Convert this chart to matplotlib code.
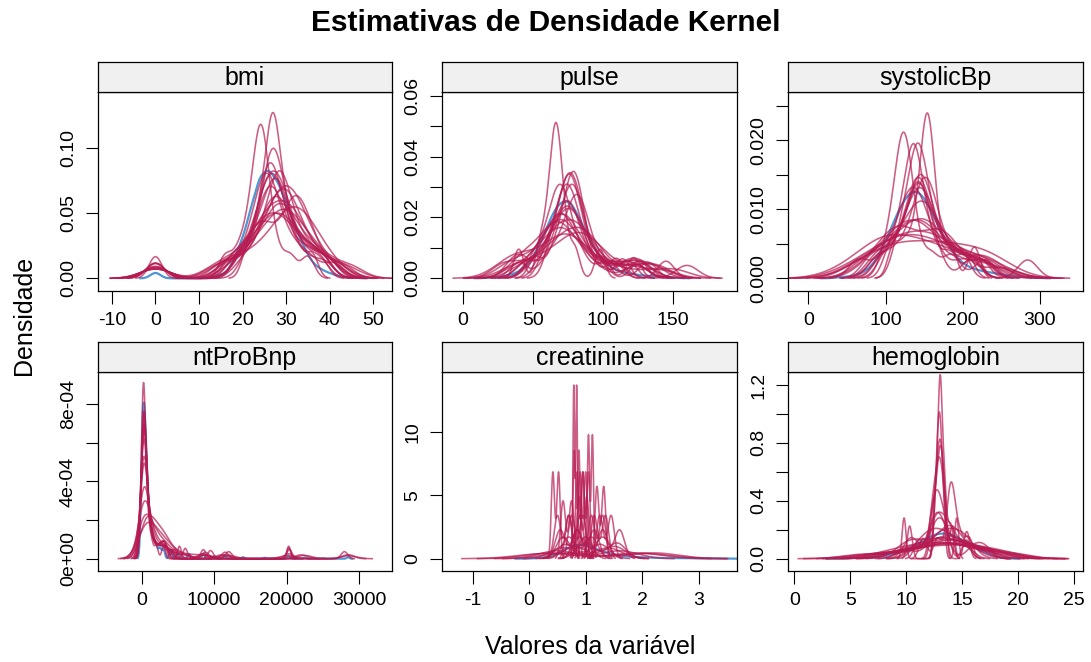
import matplotlib
matplotlib.use('Agg')
import matplotlib.pyplot as plt
import numpy as np

plt.rcParams['font.family'] = ['Liberation Sans', 'DejaVu Sans']

COR_OBS = '#006CC2'
COR_IMP = '#B61A51'

# ---- dados observados (valor, contagem) e conjuntos imputados por variável ----
bmi_obs = [0, 15, 18, 20, 22, 24, 26, 28, 30, 32, 34, 36, 38, 40, 42, 45]
bmi_obs_n = [6, 4, 15, 30, 55, 80, 85, 75, 60, 40, 25, 12, 7, 4, 2, 1]
bmi_imp = [
    [0, 16, 19, 21, 22, 23, 23.5, 24, 24, 24.5, 25, 25.5, 26, 28, 31, 35],
    [0, 14, 18, 21, 23, 25, 26, 27, 28, 29, 30, 31, 33, 35, 38, 42],
    [17, 20, 22, 24, 25, 26, 27, 27, 28, 29, 29, 30, 32, 34, 37, 40],
    [0, 18, 21, 23, 24, 25, 26, 26, 27, 28, 28, 29, 30, 32, 35, 39],
    [15, 19, 22, 24, 25, 26, 26, 27, 27, 28, 29, 31, 33, 36, 38, 43],
    [0, 20, 22, 24, 25, 25, 26, 31, 31, 32, 32, 32, 33, 34, 36, 38],
    [18, 21, 23, 25, 26, 27, 28, 29, 30, 30, 31, 32, 33, 35, 37, 41],
    [0, 17, 20, 22, 24, 25, 26, 27, 28, 29, 30, 32, 34, 36, 39, 44],
    [19, 22, 24, 25, 26, 26, 27, 27, 28, 28, 29, 30, 31, 33, 35, 38],
    [0, 15, 19, 22, 24, 26, 27, 28, 29, 30, 31, 32, 33, 35, 37, 40],
    [16, 20, 23, 25, 26, 27, 28, 28, 29, 29, 30, 31, 32, 34, 36, 39],
    [0, 19, 22, 23, 24, 25, 25, 26, 26, 27, 28, 29, 31, 33, 36, 41],
    [20, 23, 25, 26, 27, 28, 29, 30, 30, 31, 32, 33, 34, 35, 37, 40],
    [0, 16, 20, 23, 25, 26, 27, 27, 28, 29, 30, 31, 33, 35, 38, 42],
    [17, 21, 24, 25, 25, 26, 26, 27, 27, 28, 29, 30, 32, 34, 36, 39],
    [0, 18, 21, 24, 26, 28, 29, 30, 31, 32, 33, 34, 35, 36, 38, 41],
    [21, 23, 24, 25, 26, 26, 27, 27, 27, 28, 28, 29, 30, 31, 33, 36],
    [0, 20, 22, 24, 25, 26, 27, 28, 29, 30, 31, 32, 33, 34, 37, 40],
    [14, 19, 22, 24, 26, 27, 28, 29, 29, 30, 31, 33, 35, 37, 40, 45],
    [0, 21, 23, 24, 25, 26, 26, 27, 28, 28, 29, 30, 31, 32, 35, 38],
]

pulse_obs = [20, 25, 30, 35, 40, 45, 50, 55, 60, 65, 70, 75, 80, 85, 90,
             95, 100, 105, 110, 115, 120, 125, 130, 135, 140, 145, 150]
pulse_obs_n = [1, 1, 2, 3, 6, 10, 18, 30, 45, 60, 68, 70, 62, 48, 35,
               24, 16, 10, 7, 5, 4, 3, 2, 2, 2, 1, 1]
pulse_imp = [
    [40, 55, 60, 63, 65, 66, 67, 68, 70, 73, 80, 98],
    [36, 44, 62, 66, 70, 73, 76, 79, 82, 86, 100, 124],
    [48, 62, 68, 72, 75, 77, 79, 81, 84, 88, 98, 126],
    [30, 40, 44, 60, 66, 70, 74, 78, 84, 92, 112, 140],
    [52, 64, 70, 74, 76, 78, 80, 82, 84, 88, 100, 122],
    [38, 54, 60, 64, 68, 71, 74, 78, 84, 96, 118, 128],
    [56, 64, 68, 71, 73, 75, 77, 80, 83, 90, 108, 145],
    [42, 56, 64, 70, 75, 80, 84, 88, 92, 100, 122, 138],
    [28, 42, 58, 63, 66, 69, 72, 75, 80, 88, 106, 124],
    [50, 60, 66, 70, 73, 76, 79, 82, 86, 95, 110, 160],
    [40, 46, 56, 62, 65, 68, 71, 75, 82, 92, 124, 140],
    [58, 65, 69, 72, 74, 76, 78, 80, 83, 87, 96, 114],
    [36, 50, 62, 70, 76, 81, 85, 89, 94, 104, 124, 150],
    [54, 62, 66, 70, 74, 78, 82, 86, 90, 100, 122, 135],
    [44, 58, 64, 69, 72, 75, 77, 79, 82, 94, 116, 128],
    [33, 42, 56, 62, 66, 70, 73, 77, 84, 96, 118, 126],
    [62, 67, 70, 73, 75, 77, 79, 81, 84, 88, 96, 110],
    [46, 56, 62, 66, 69, 72, 75, 79, 84, 94, 110, 124],
    [40, 60, 68, 74, 78, 80, 82, 84, 87, 92, 104, 132],
    [50, 58, 63, 66, 68, 70, 72, 74, 78, 86, 102, 118],
]

sbp_obs = [40, 50, 60, 70, 80, 90, 100, 110, 120, 130, 140, 150, 160, 170,
           180, 190, 200, 210, 220, 230, 240, 250, 260, 270, 280, 290]
sbp_obs_n = [1, 1, 2, 4, 8, 15, 28, 42, 56, 65, 68, 62, 50, 38,
             26, 17, 11, 8, 6, 5, 4, 3, 2, 1, 1, 1]
sbp_imp = [
    [100, 112, 118, 121, 123, 125, 127, 130, 140, 160, 185, 215],
    [60, 90, 105, 118, 128, 138, 145, 152, 162, 178, 200, 235],
    [110, 125, 138, 146, 150, 153, 155, 157, 160, 168, 185, 215],
    [50, 86, 90, 94, 110, 125, 138, 150, 165, 185, 205, 240],
    [80, 100, 118, 130, 138, 142, 145, 148, 155, 170, 195, 225],
    [75, 100, 112, 118, 122, 126, 162, 166, 170, 176, 195, 250],
    [95, 112, 125, 134, 140, 144, 148, 154, 162, 175, 190, 210],
    [70, 90, 105, 120, 135, 150, 165, 180, 195, 215, 232, 245],
    [88, 110, 125, 133, 138, 142, 146, 150, 158, 170, 186, 228],
    [65, 95, 115, 128, 136, 140, 144, 148, 152, 166, 210, 284],
    [115, 125, 132, 136, 140, 143, 146, 150, 156, 165, 180, 200],
    [55, 85, 100, 112, 124, 136, 148, 160, 175, 195, 220, 240],
    [90, 108, 122, 132, 140, 145, 150, 158, 165, 178, 198, 226],
    [80, 98, 112, 122, 130, 138, 146, 155, 168, 190, 222, 236],
    [100, 115, 128, 136, 141, 145, 149, 153, 160, 172, 190, 212],
    [70, 92, 108, 124, 132, 138, 152, 158, 164, 180, 204, 230],
    [105, 118, 126, 131, 134, 137, 140, 144, 150, 162, 182, 205],
    [60, 88, 102, 116, 128, 140, 150, 162, 172, 188, 216, 232],
    [85, 105, 118, 126, 132, 136, 140, 146, 154, 168, 200, 230],
    [95, 115, 130, 140, 146, 150, 154, 158, 164, 176, 196, 222],
]

bnp_obs = [0, 200, 400, 600, 800, 1000, 1300, 1600, 2000, 2500, 3000, 4000,
           5000, 6500, 8500, 10000, 11500, 14000, 17000, 20300, 22500, 25000, 28500]
bnp_obs_n = [120, 150, 145, 90, 60, 45, 40, 30, 28, 22, 20, 18,
             12, 10, 10, 5, 5, 3, 2, 6, 2, 1, 3]
bnp_imp = [
    [20, 50, 80, 110, 135, 160, 185, 210, 235, 260, 290, 320,
     360, 410, 470, 550, 680, 850, 1050, 1400, 2000, 3000, 5200, 20300],
    [10, 60, 110, 150, 190, 230, 270, 320, 380, 450, 540, 650,
     780, 950, 1200, 1500, 1900, 2400, 2900, 3300, 4200, 6000, 11500, 28500],
    [40, 80, 110, 140, 170, 200, 230, 260, 290, 320, 360, 400,
     450, 520, 600, 700, 850, 1000, 1300, 1700, 2300, 2900, 3500, 20300],
    [30, 90, 150, 200, 260, 330, 400, 500, 620, 760, 900, 1100,
     1300, 1600, 1900, 2300, 2700, 3000, 3400, 4000, 5500, 8600, 12000, 22500],
    [50, 90, 120, 150, 180, 210, 240, 270, 300, 340, 380, 430,
     490, 560, 650, 760, 900, 1100, 1400, 1800, 2400, 2900, 3300, 4500],
    [15, 45, 85, 120, 160, 200, 240, 280, 330, 390, 460, 550,
     660, 800, 980, 1200, 1500, 1900, 2500, 3000, 3600, 4800, 8400, 20300],
    [60, 100, 140, 170, 200, 225, 250, 275, 300, 330, 360, 400,
     450, 520, 600, 700, 850, 1050, 1300, 1700, 2300, 2800, 3200, 6000],
    [25, 75, 115, 150, 180, 210, 240, 270, 300, 340, 390, 450,
     520, 620, 750, 900, 1150, 1500, 2000, 2600, 3200, 4000, 8800, 11500],
    [35, 80, 120, 150, 180, 205, 230, 255, 280, 310, 345, 390,
     440, 510, 600, 720, 880, 1100, 1400, 1900, 2500, 3000, 3400, 20400],
    [5, 120, 250, 400, 550, 700, 850, 1000, 1150, 1300, 1500, 1700,
     1900, 2100, 2400, 2700, 2900, 3100, 3400, 3800, 4500, 6000, 11000, 22000],
    [45, 85, 125, 160, 190, 215, 240, 265, 290, 320, 355, 400,
     460, 540, 640, 760, 920, 1150, 1500, 2000, 2600, 3100, 4000, 8500],
    [20, 65, 105, 140, 170, 200, 230, 260, 290, 330, 380, 440,
     510, 600, 720, 880, 1100, 1400, 1800, 2400, 3000, 3700, 12000, 28000],
    [30, 70, 100, 130, 160, 185, 210, 240, 270, 300, 340, 390,
     450, 530, 630, 760, 950, 1200, 1600, 2100, 2700, 3300, 4200, 9500],
    [10, 100, 200, 320, 450, 600, 750, 900, 1050, 1250, 1450, 1700,
     2000, 2300, 2600, 2900, 3200, 3600, 4200, 5200, 7000, 9000, 20100, 28600],
]

creat_obs = [0.1, 0.2, 0.3, 0.4, 0.5, 0.6, 0.7, 0.8, 0.9, 1.0, 1.1, 1.2,
             1.3, 1.4, 1.5, 1.6, 1.7, 1.8, 1.9, 2.0, 2.1, 2.2, 2.3, 2.4,
             2.5, 2.6, 2.7, 2.8, 2.9, 3.1, 3.4]
creat_obs_n = [1, 1, 2, 4, 8, 14, 20, 24, 25, 24, 20, 16,
               12, 9, 7, 5, 4, 3, 3, 2, 2, 2, 1, 1,
               1, 1, 1, 1, 1, 1, 1]
creat_imp = [
    [0.42, 0.52], [0.79, 0.84], [1.05, 1.12], [0.85, 0.95], [0.95, 1.05],
    [0.7, 0.9], [1.2, 1.32], [1.1, 1.3], [0.6, 1.0], [0.8, 1.5],
    [1.0, 1.55], [0.5, 1.6], [0.3, 2.0], [0.9, 1.0], [0.75, 0.95],
    [0.88, 1.02], [0.65, 1.25], [1.3, 1.6], [0.55, 0.85], [0.4, 1.9],
    [0.8, 0.88], [0.6, 0.75], [1.15, 1.35], [0.7, 1.1], [0.9, 1.3],
    [0.5, 0.7], [1.25, 1.45], [0.85, 1.15], [0.6, 1.4], [0.7, 2.2],
]

hb_obs = [5, 6, 7, 8, 9, 10, 11, 12, 13, 14, 15, 16, 17, 18]
hb_obs_n = [1, 1, 2, 3, 6, 12, 20, 30, 36, 34, 26, 16, 8, 3]
hb_imp = [
    [9.8, 12.6, 12.8, 12.9, 13.0, 13.1, 13.3, 14.5],
    [7, 10, 11.5, 12.5, 13.5, 14.5, 16, 18.5],
    [6, 10, 12, 13, 14, 15, 16.5, 19],
    [10.3, 10.6, 12.4, 12.7, 13.0, 13.3, 14.0, 15.4],
    [12.2, 12.5, 12.7, 12.9, 13.0, 13.2, 13.4, 15.4],
    [9, 11, 12.5, 13.2, 13.8, 14.5, 15.5, 17],
    [10.3, 12.6, 12.8, 12.95, 13.05, 13.2, 13.4, 14.1],
    [6.5, 10, 11.5, 13, 14, 15.5, 16.5, 18],
    [11, 11.8, 12.3, 12.8, 13.4, 14, 15, 16.5],
    [8.5, 11, 12.5, 13.5, 14.2, 15, 16.2, 18],
    [10.9, 12.3, 12.6, 12.9, 13.3, 13.7, 14.2, 15.2],
    [9.5, 11, 12, 13, 13.6, 14.4, 15.5, 17],
    [12.3, 12.6, 12.85, 13.0, 13.1, 13.25, 13.5, 14.0],
    [7.5, 11, 12.5, 13.5, 14.5, 15.5, 17, 19.5],
    [11.5, 12.8, 13.8, 13.95, 14.05, 14.2, 14.8, 15.6],
    [8, 10.2, 10.6, 12.4, 13.2, 14.2, 15, 17.5],
    [10, 11.8, 12.8, 13.3, 13.8, 14.4, 15.2, 15.4],
    [9.2, 11, 12.2, 13.4, 14.6, 15.8, 17, 18.8],
    [10.2, 10.4, 10.6, 12.9, 13.1, 13.3, 15.3, 15.5],
    [12.5, 12.75, 12.9, 13.0, 13.05, 13.15, 13.3, 13.5],
    [10.5, 12.3, 12.5, 12.8, 13.1, 13.3, 16, 17],
    [11.1, 12.2, 12.5, 12.7, 12.9, 13.2, 13.6, 15.4],
    [8.2, 10.8, 12.1, 13.0, 13.7, 14.6, 15.8, 17.8],
    [9.9, 12.1, 12.9, 13.6, 14.0, 14.3, 15.1, 16.8],
]

# painéis: nome, observados, contagens, imputados, limites, ticks e rótulos
paineis = [
    ('bmi', bmi_obs, bmi_obs_n, bmi_imp, (-13.3, 54.4), (-0.0095, 0.1435),
     [-10, 0, 10, 20, 30, 40, 50], [0, 0.05, 0.10], ['0.00', '0.05', '0.10']),
    ('pulse', pulse_obs, pulse_obs_n, pulse_imp, (-14.5, 195.7), (-0.0041, 0.0614),
     [0, 50, 100, 150], [0, 0.01, 0.02, 0.03, 0.04, 0.05, 0.06],
     ['0.00', '', '0.02', '', '0.04', '', '0.06']),
    ('systolicBp', sbp_obs, sbp_obs_n, sbp_imp, (-25.8, 355.7), (-0.0018, 0.0270),
     [0, 100, 200, 300], [0, 0.005, 0.010, 0.015, 0.020, 0.025],
     ['0.000', '', '0.010', '', '0.020', '']),
    ('ntProBnp', bnp_obs, bnp_obs_n, bnp_imp, (-6108, 34598), (-6.2e-5, 9.675e-4),
     [0, 10000, 20000, 30000], [0, 2e-4, 4e-4, 6e-4, 8e-4],
     ['0e+00', '', '4e-04', '', '8e-04']),
    ('creatinine', creat_obs, creat_obs_n, creat_imp, (-1.537, 3.681), (-0.948, 14.74),
     [-1, 0, 1, 2, 3], [0, 5, 10], ['0', '5', '10']),
    ('hemoglobin', hb_obs, hb_obs_n, hb_imp, (-0.53, 25.78), (-0.083, 1.292),
     [0, 5, 10, 15, 20, 25], [0, 0.2, 0.4, 0.6, 0.8, 1.0, 1.2],
     ['0.0', '', '0.4', '', '0.8', '', '1.2']),
]


def densidade(valores, contagens=None, n=512, cut=3):
    """Estimativa kernel gaussiana com a largura de banda bw.nrd0 do R."""
    x = np.asarray(valores, dtype=float)
    if contagens is not None:
        x = np.repeat(x, contagens)
    q1, q3 = np.percentile(x, [25, 75])
    bw = 0.9 * min(x.std(ddof=1), (q3 - q1) / 1.34) * len(x) ** -0.2
    grade = np.linspace(x.min() - cut * bw, x.max() + cut * bw, n)
    z = (grade[:, None] - x[None, :]) / bw
    dens = np.exp(-0.5 * z ** 2).sum(axis=1) / (len(x) * bw * np.sqrt(2 * np.pi))
    return grade, dens


W, H = 1091, 662
fig = plt.figure(figsize=(W / 100, H / 100), dpi=100)

esquerdas = [97.6, 442.4, 788.4]
largura = 294.6
topos = [91.7, 371.7]
altura = 199.0
faixa = 30.0

for i, (nome, obs, obs_n, imps, xlim, ylim, xt, yt, ylab) in enumerate(paineis):
    lin, col = divmod(i, 3)
    x0 = esquerdas[col] / W
    y0 = 1 - (topos[lin] + altura) / H
    ax = fig.add_axes([x0, y0, largura / W, altura / H])

    gx, gy = densidade(obs, obs_n)
    ax.plot(gx, gy, color=COR_OBS, alpha=0.7, lw=1.6)
    for vals in imps:
        gx, gy = densidade(vals)
        ax.plot(gx, gy, color=COR_IMP, alpha=0.7, lw=1.15)

    ax.set_xlim(*xlim)
    ax.set_ylim(*ylim)
    ax.set_xticks(xt)
    ax.set_xticklabels([str(v) for v in xt])
    ax.set_yticks(yt)
    ax.set_yticklabels(ylab, rotation=90, va='center')
    ax.tick_params(length=9, width=0.8, labelsize=14, pad=6, direction='out')
    for s in ax.spines.values():
        s.set_linewidth(0.9)

    # faixa com o nome da variável
    sx = fig.add_axes([x0, 1 - topos[lin] / H, largura / W, faixa / H])
    sx.set_facecolor('#F0F0F0')
    sx.set_xticks([])
    sx.set_yticks([])
    for s in sx.spines.values():
        s.set_linewidth(0.9)
    sx.text(0.5, 0.45, nome, ha='center', va='center', fontsize=18,
            transform=sx.transAxes)

fig.text(0.5, 1 - 23 / H, 'Estimativas de Densidade Kernel', ha='center',
         va='center', fontsize=21.5, fontweight='bold')
fig.text(590 / W, 1 - 647 / H, 'Valores da variável', ha='center', va='center',
         fontsize=18)
fig.text(24 / W, 1 - 315 / H, 'Densidade', ha='center', va='center',
         fontsize=18, rotation=90)

fig.savefig('out.png', dpi=100)
